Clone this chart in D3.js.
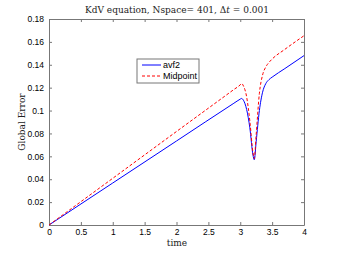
<!DOCTYPE html>
<html>
<head>
<meta charset="utf-8">
<script src="https://cdn.jsdelivr.net/npm/d3@7"></script>
<style>
  body { margin: 0; background: #fff; }
  svg { display: block; }
</style>
</head>
<body>
<script>
var width = 337, height = 253;
var margin = {left: 49, right: 33, top: 19, bottom: 28};

// time samples
var time = [0, 1, 2, 2.9, 3.0, 3.02, 3.05, 3.1, 3.15, 3.2, 3.22, 3.25, 3.3, 3.35, 3.4, 3.45, 3.5, 3.7, 4.0];
var avf2 = [0, 0.0367, 0.0734, 0.1064, 0.1100, 0.1106, 0.1090, 0.1010, 0.0850, 0.0610, 0.0570, 0.0730, 0.1000, 0.1160, 0.1235, 0.1270, 0.1292, 0.1367, 0.1480];
var midpoint = [0, 0.0408, 0.0817, 0.1184, 0.1225, 0.1237, 0.1215, 0.1120, 0.0910, 0.0630, 0.0580, 0.0790, 0.1150, 0.1310, 0.1380, 0.1420, 0.1450, 0.1535, 0.1654];
var xTicks = [0, 0.5, 1, 1.5, 2, 2.5, 3, 3.5, 4];
var yTicks = [0, 0.02, 0.04, 0.06, 0.08, 0.1, 0.12, 0.14, 0.16, 0.18];
var seriesNames = ['avf2', 'Midpoint'];

var svg = d3.select('body').append('svg')
  .attr('width', width).attr('height', height);

var x = d3.scaleLinear().domain([0, 4]).range([margin.left, width - margin.right]);
var y = d3.scaleLinear().domain([0, 0.18]).range([height - margin.bottom, margin.top]);

var axisColor = '#777';
var tickFont = 'Liberation Sans, Arial, sans-serif';
var serif = 'DejaVu Serif, serif';

// axes, ticks inside on all four sides
var styleAxis = function(g){
  g.selectAll('.domain').attr('stroke', axisColor);
  g.selectAll('.tick line').attr('stroke', axisColor);
  g.selectAll('.tick text').attr('fill', '#000').style('font-family', tickFont).style('font-size', '8.5px');
};

svg.append('g').attr('transform', 'translate(0,' + y(0) + ')')
  .call(d3.axisBottom(x).tickValues(xTicks).tickSizeInner(-3).tickSizeOuter(0).tickPadding(4)
    .tickFormat(d3.format('')))
  .call(styleAxis);
svg.append('g').attr('transform', 'translate(0,' + y(0.18) + ')')
  .call(d3.axisTop(x).tickValues(xTicks).tickSizeInner(-3).tickSizeOuter(0).tickFormat(''))
  .call(styleAxis);
svg.append('g').attr('transform', 'translate(' + x(0) + ',0)')
  .call(d3.axisLeft(y).tickValues(yTicks).tickSizeInner(-3).tickSizeOuter(0).tickPadding(5)
    .tickFormat(function(d){ return d === 0 ? '0' : d3.format('')(+d.toFixed(2)); }))
  .call(styleAxis);
svg.append('g').attr('transform', 'translate(' + x(4) + ',0)')
  .call(d3.axisRight(y).tickValues(yTicks).tickSizeInner(-3).tickSizeOuter(0).tickFormat(''))
  .call(styleAxis);

// curves
var line = d3.line()
  .x(function(d){ return x(d[0]); })
  .y(function(d){ return y(d[1]); })
  .curve(d3.curveMonotoneX);

svg.append('path')
  .datum(d3.zip(time, avf2))
  .attr('d', line)
  .attr('fill', 'none').attr('stroke', '#0000ff').attr('stroke-width', 1);

svg.append('path')
  .datum(d3.zip(time, midpoint))
  .attr('d', line)
  .attr('fill', 'none').attr('stroke', '#ff0000').attr('stroke-width', 1)
  .attr('stroke-dasharray', '3,2');

// legend
var legend = svg.append('g').attr('transform', 'translate(137,59)');
legend.append('rect').attr('width', 62).attr('height', 24)
  .attr('fill', '#fff').attr('stroke', axisColor).attr('stroke-width', 1);
seriesNames.forEach(function(name, i){
  var yy = 6 + i * 11;
  legend.append('line').attr('x1', 5).attr('x2', 24).attr('y1', yy).attr('y2', yy)
    .attr('stroke', i === 0 ? '#0000ff' : '#ff0000').attr('stroke-width', 1)
    .attr('stroke-dasharray', i === 0 ? null : '3,2');
  legend.append('text').attr('x', 26).attr('y', yy + 3)
    .style('font-family', tickFont).style('font-size', '9px').text(name);
});

// title and labels
var title = svg.append('text').attr('x', 177).attr('y', 13).attr('text-anchor', 'middle')
  .style('font-family', serif).style('font-size', '9px').attr('fill', '#222');
title.append('tspan').text('KdV equation, Nspace= 401, \u0394');
title.append('tspan').style('font-style', 'italic').text('t');
title.append('tspan').text(' = 0.001');

svg.append('text').attr('x', 177).attr('y', 246).attr('text-anchor', 'middle')
  .style('font-family', serif).style('font-size', '9px').attr('fill', '#222').text('time');

svg.append('text').attr('transform', 'translate(25,' + ((margin.top + height - margin.bottom) / 2) + ') rotate(-90)')
  .attr('text-anchor', 'middle')
  .style('font-family', serif).style('font-size', '9px').attr('fill', '#222').text('Global Error');
</script>
</body>
</html>
